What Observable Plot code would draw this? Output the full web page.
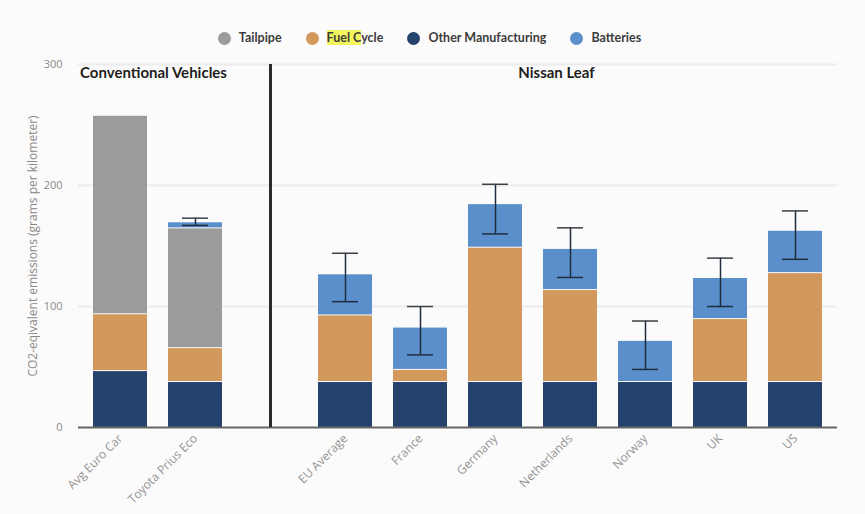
<!DOCTYPE html>
<html><head><meta charset="utf-8">
<script src="https://cdn.jsdelivr.net/npm/d3@7"></script>
<script src="https://cdn.jsdelivr.net/npm/@observablehq/plot@0.6"></script>
<style>
html,body{margin:0;padding:0;background:#fcfbfb;font-family:Lato,"Open Sans",sans-serif;}
#legend{height:56px;display:flex;justify-content:center;align-items:flex-start;box-sizing:border-box;padding-top:30px;padding-right:6px;}
.item{display:flex;align-items:center;margin:0 12px;font-size:12.5px;font-weight:700;color:#3c3c3c;line-height:16px;}
.dot{width:13px;height:13px;border-radius:50%;margin-right:8px;}
.hl{background:#f2f55c;}
#chart svg{display:block;background:#fcfbfb;}
</style></head><body>
<div id="legend"></div>
<div id="chart"></div>
<script>
// categories (blank slot " " holds the divider)
const vehicles = ["Avg Euro Car","Toyota Prius Eco"," ","EU Average","France","Germany","Netherlands","Norway","UK","US"];
const series = ["Other Manufacturing","Fuel Cycle","Tailpipe","Batteries"];
const legendOrder = ["Tailpipe","Fuel Cycle","Other Manufacturing","Batteries"];
const seriesColors = ["#24436c","#d2985c","#9b9b9b","#5b8fcb"];
// values (grams CO2-eq per km)
const otherManufacturing = [47,38,null,38,38,38,38,38,38,38];
const fuelCycle          = [47,28,null,55,10,111,76,0,52,90];
const tailpipe           = [164,99,null,0,0,0,0,0,0,0];
const batteries          = [0,5,null,34,35,36,34,34,34,35];
const errLow  = [null,167,null,104,60,160,124,48,100,139];
const errHigh = [null,173,null,144,100,201,165,88,140,179];
const yTicks = [0,100,200,300];
const groupTitles = ["Conventional Vehicles","Nissan Leaf"];
const groupAnchors = ["Avg Euro Car","Netherlands"];
const dividerSlot = [" "];

const valuesBySeries = [otherManufacturing, fuelCycle, tailpipe, batteries];
const rows = [];
vehicles.forEach((v,i) => {
  series.forEach((s,j) => {
    const val = valuesBySeries[j][i];
    if (val) rows.push({vehicle: v, series: s, value: val});
  });
});
const errRows = vehicles.map((v,i) => ({vehicle: v, lo: errLow[i], hi: errHigh[i]})).filter(d => d.lo != null);
const titleRows = groupTitles.map((t,i) => ({label: t, vehicle: groupAnchors[i]}));

// legend
const legend = document.getElementById("legend");
legendOrder.forEach(s => {
  const it = document.createElement("div");
  it.className = "item";
  const dot = document.createElement("span");
  dot.className = "dot";
  dot.style.background = seriesColors[series.indexOf(s)];
  it.appendChild(dot);
  const lab = document.createElement("span");
  if (s === "Fuel Cycle") {
    lab.innerHTML = '<span class="hl">Fuel C</span>ycle';
  } else lab.textContent = s;
  it.appendChild(lab);
  legend.appendChild(it);
});

const chart = Plot.plot({
  width: 865,
  height: 458,
  marginTop: 8,
  marginBottom: 87,
  marginLeft: 78,
  marginRight: 28,
  style: {background: "#fcfbfb", fontFamily: "'Open Sans', sans-serif"},
  x: {domain: vehicles, paddingInner: 0.28, paddingOuter: 0.14},
  y: {domain: [0, 300]},
  color: {domain: series, range: seriesColors},
  marks: [
    Plot.ruleY([100, 200, 300], {stroke: "#ececec", strokeWidth: 2}),
    Plot.barY(rows, Plot.stackY({x: "vehicle", y: "value", fill: "series", order: series, insetTop: 1})),
    Plot.ruleX(errRows, {x: "vehicle", y1: "lo", y2: "hi", stroke: "#1f2c3d", strokeWidth: 1.5}),
    Plot.tickY(errRows, {x: "vehicle", y: "lo", stroke: "#1f2c3d", strokeWidth: 1.5, insetLeft: 14, insetRight: 14}),
    Plot.tickY(errRows, {x: "vehicle", y: "hi", stroke: "#3a3f46", strokeWidth: 1.5, insetLeft: 14, insetRight: 14}),
    Plot.ruleY([0], {stroke: "#666", strokeWidth: 2}),
    Plot.ruleX(dividerSlot, {x: d => d, y1: 0, y2: 300, stroke: "#2b2b2b", strokeWidth: 3}),
    Plot.text(titleRows, {x: "vehicle", y: 292.5, text: "label", fontFamily: "Lato, sans-serif", fontWeight: 700, fontSize: 15, fill: "#1e1e1e", filter: d => d.label === "Conventional Vehicles", dx: 33}),
    Plot.text(titleRows, {x: "vehicle", y: 292.5, text: "label", fontFamily: "Lato, sans-serif", fontWeight: 700, fontSize: 15, fill: "#1e1e1e", filter: d => d.label === "Nissan Leaf", dx: -14}),
    Plot.axisY({ticks: yTicks, tickSize: 0, tickPadding: 16, fill: "#8a8a8a", fontSize: 11, label: null}),
    Plot.axisY({ticks: [], tickSize: 0, fill: "#8a8a8a", fontSize: 12,
      label: "CO2-eqivalent emissions (grams per kilometer)", labelAnchor: "center", labelArrow: "none", labelOffset: 50}),
    Plot.axisX({tickRotate: -45, tickSize: 0, tickPadding: 9, fill: "#939393", fontSize: 12, label: null})
  ]
});
document.getElementById("chart").appendChild(chart);
</script>
</body></html>
